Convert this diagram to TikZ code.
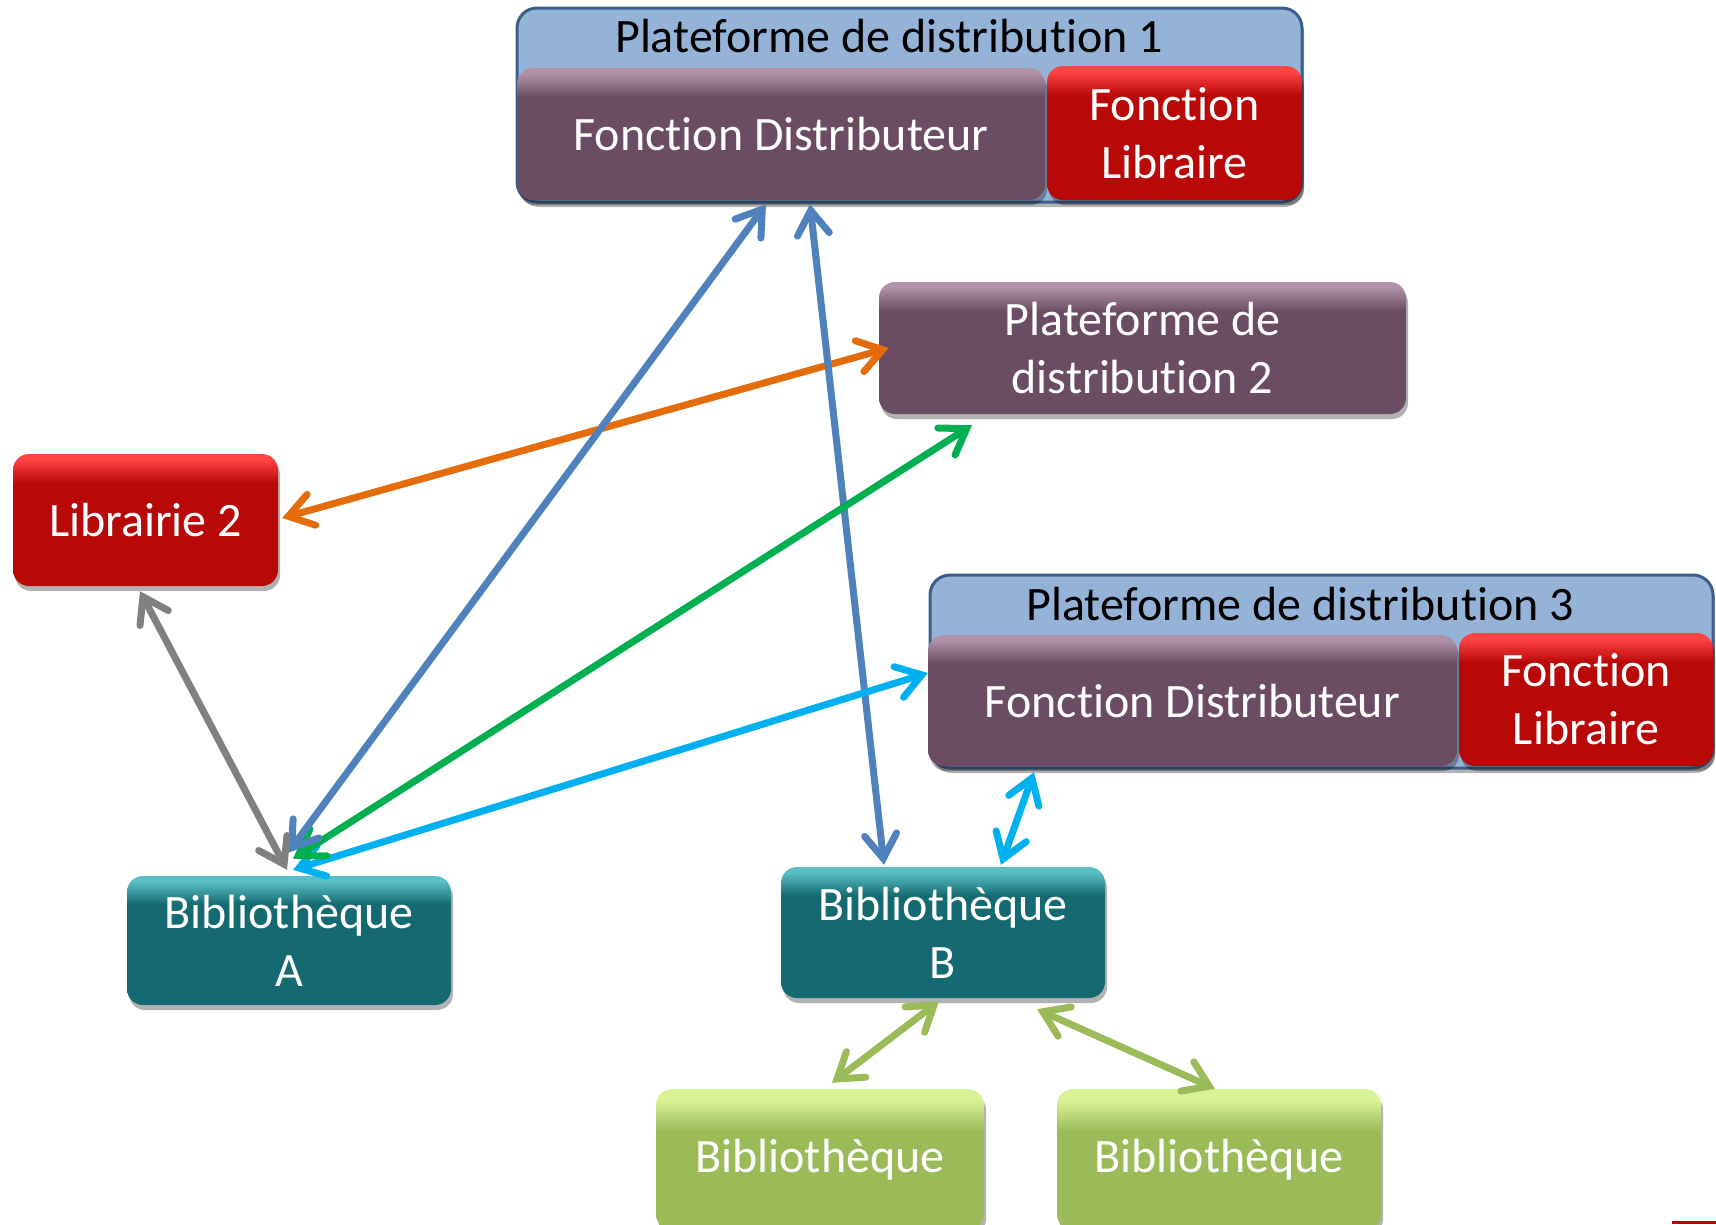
\documentclass[tikz,border=0pt]{standalone}
\usepackage{fontspec}
\setmainfont{Carlito}[Ligatures=NoCommon]
\usetikzlibrary{arrows.meta,shadows,calc}
\definecolor{purpB}{HTML}{6B4D63}
\definecolor{purpT}{HTML}{B092A8}
\definecolor{redB}{HTML}{B80808}
\definecolor{redT}{HTML}{FF4444}
\definecolor{tealB}{HTML}{146A70}
\definecolor{tealT}{HTML}{5ABFC7}
\definecolor{lgB}{HTML}{9BBB59}
\definecolor{lgT}{HTML}{D8F294}
\definecolor{hdrfill}{HTML}{95B3D7}
\definecolor{hdrline}{HTML}{3B5F8C}
\definecolor{cBlue}{HTML}{4F81BD}
\definecolor{cOrange}{HTML}{E46C0A}
\definecolor{cGreen}{HTML}{00B050}
\definecolor{cCyan}{HTML}{00B0F0}
\definecolor{cGray}{HTML}{808080}
\definecolor{cLG}{HTML}{9BBB59}
\pgfdeclareverticalshading{purpglass}{100bp}{color(0bp)=(purpB); color(25bp)=(purpB); color(64bp)=(purpB); color(73bp)=(purpT); color(100bp)=(purpT)}
\pgfdeclareverticalshading{redglass}{100bp}{color(0bp)=(redB); color(25bp)=(redB); color(64bp)=(redB); color(73bp)=(redT); color(100bp)=(redT)}
\pgfdeclareverticalshading{tealglass}{100bp}{color(0bp)=(tealB); color(25bp)=(tealB); color(64bp)=(tealB); color(73bp)=(tealT); color(100bp)=(tealT)}
\pgfdeclareverticalshading{lgglass}{100bp}{color(0bp)=(lgB); color(25bp)=(lgB); color(60bp)=(lgB); color(71bp)=(lgT); color(100bp)=(lgT)}
\tikzset{
  gbox/.style={rounded corners=16pt, minimum width=#1, inner sep=0pt, align=center,
    text=white, font=\fontsize{48}{58}\selectfont,
    drop shadow={shadow xshift=2pt, shadow yshift=-5pt, opacity=0.3, fill=black}},
  purpbox/.style={gbox=#1, shading=purpglass},
  redbox/.style={gbox=#1, shading=redglass},
  tealbox/.style={gbox=#1, shading=tealglass},
  lgbox/.style={gbox=#1, shading=lgglass},
  container/.style={rounded corners=20pt, fill=hdrfill, draw=hdrline, line width=3pt,
    drop shadow={shadow xshift=2pt, shadow yshift=-5pt, opacity=0.3, fill=black}},
  hdrtext/.style={text=black, font=\fontsize{48}{56}\selectfont, inner sep=0pt},
  conn/.style={line width=7pt, line cap=round, {Straight Barb[length=24pt,width=32pt,line cap=round]}-{Straight Barb[length=24pt,width=32pt,line cap=round]}, draw=#1}
}
\begin{document}
\begin{tikzpicture}[x=1pt,y=-1pt]
\useasboundingbox (0,0) rectangle (1716,1224);
% containers
\draw[container] (517,8) rectangle (1302,202);
\node[hdrtext] (h1) at (889,36) {Plateforme de distribution 1};
\draw[container] (930,575) rectangle (1713,768);
\node[hdrtext] (h3) at (1300,604) {Plateforme de distribution 3};
% boxes
\node[purpbox=528pt, minimum height=132pt] (fd1) at (781,134) {Fonction Distributeur};
\node[redbox=255pt, minimum height=134pt] (fl1) at (1174.5,133) {Fonction\\Libraire};
\node[purpbox=527pt, minimum height=132pt] (p2) at (1142.5,348) {Plateforme de\\distribution 2};
\node[redbox=265pt, minimum height=132pt] (l2) at (145.5,520) {Librairie 2};
\node[purpbox=529pt, minimum height=131pt] (fd3) at (1192.5,700.5) {Fonction Distributeur};
\node[redbox=254pt, minimum height=133pt] (fl3) at (1586,699.5) {Fonction\\Libraire};
\node[tealbox=324pt, minimum height=129pt] (ba) at (289,940.5) {Bibliothèque\\A};
\node[tealbox=324pt, minimum height=131pt] (bb) at (943,932.5) {Bibliothèque\\B};
\node[lgbox=328pt, minimum height=141pt] (g1) at (820,1159.5) {Bibliothèque};
\node[lgbox=324pt, minimum height=141pt] (g2) at (1219,1159.5) {Bibliothèque};
% connectors
\draw[conn=cOrange] ($(l2.east)+(4,-2)$) -- ($(p2.west)+(10,0)$);
\draw[conn=cBlue] ($(fd1.south)+(29,4)$) -- ($(bb.north)+(-59,-2)$);
\draw[conn=cCyan] ($(ba.north)+(4,-6)$) -- ($(fd3.west)+(0,-27.5)$);
\draw[conn=cGreen] ($(ba.north)+(4,-17)$) -- ($(p2.south)+(-170.5,11)$);
\draw[conn=cBlue] ($(ba.north)+(-1,-23)$) -- ($(fd1.south)+(-15,4)$);
\draw[conn=cGray] ($(l2.south)+(-5.5,5)$) -- ($(ba.north)+(-2,-6)$);
\draw[conn=cCyan] ($(fd3.south)+(-158.5,6)$) -- ($(bb.north)+(58,-2)$);
\draw[conn=cLG] ($(bb.south)+(-4,3)$) -- ($(g1.north)+(12,-6)$);
\draw[conn=cLG] ($(bb.south)+(94,11)$) -- ($(g2.north)+(-4,0)$);
% small red mark
\fill[red!75!black] (1672,1221) rectangle (1716,1224);
\end{tikzpicture}
\end{document}
